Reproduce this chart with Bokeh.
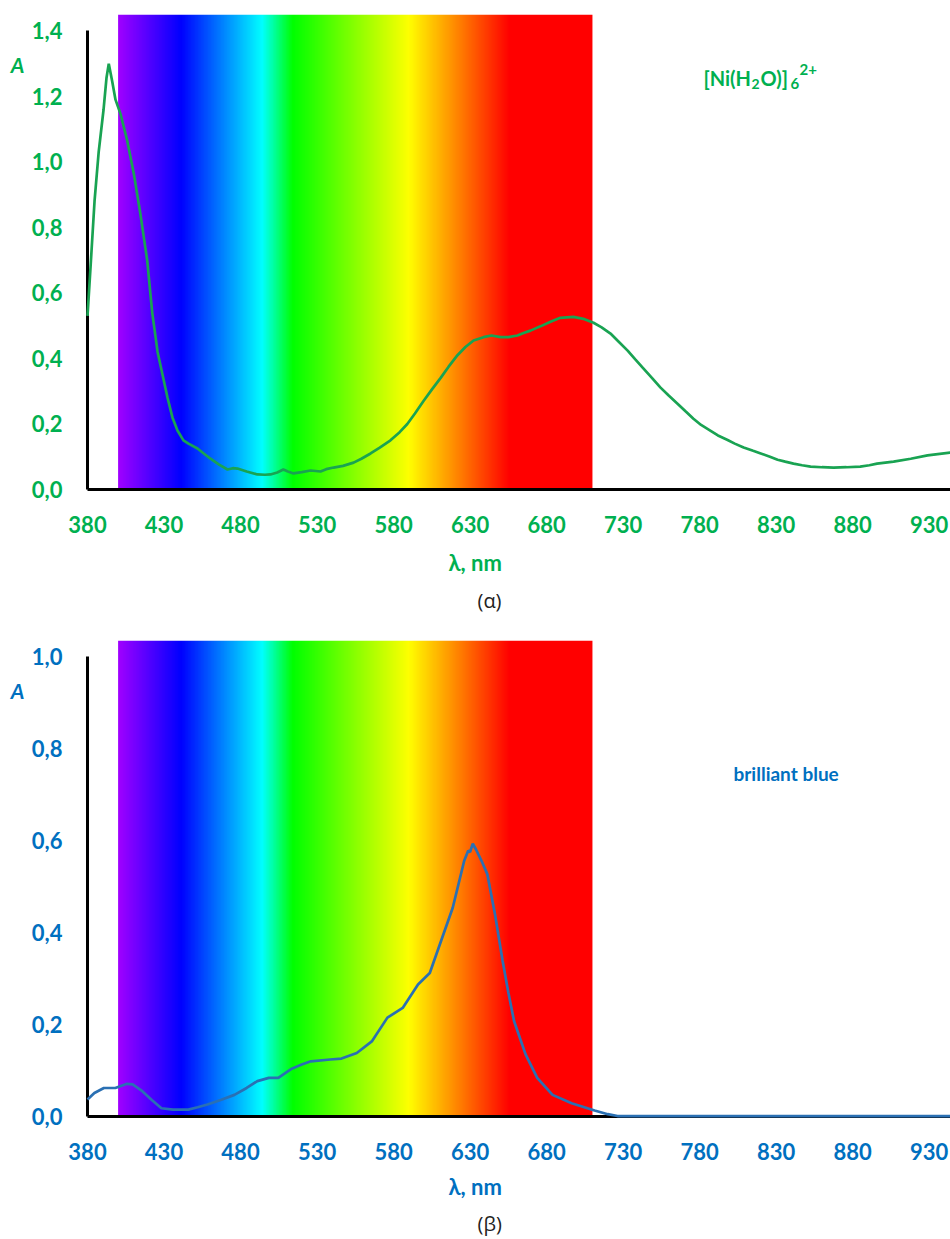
import numpy as np
from bokeh.plotting import figure
from bokeh.models import FixedTicker, CustomJSTickFormatter, Label, Range1d, LinearAxis, Title
from bokeh.layouts import column
from bokeh.embed import file_html
from bokeh.resources import INLINE

# ---------------- data ----------------
ni_wl = [380, 382, 384.6, 387.3, 390.5, 392.4, 393.9, 396.1, 398.3, 401.6, 406, 410.3,
         414.6, 419, 422.3, 425.8, 432.3, 435.5, 438.8, 442.7, 446, 451.9, 456, 460.4,
         466, 471.5, 475, 478, 484, 491, 496, 499.6, 504, 508, 511, 514.6, 520, 525.8,
         532.3, 536, 540.8, 547, 553.9, 559, 565, 571, 578, 584, 589, 594, 599.6, 605,
         610.7, 616, 621.8, 627, 632.3, 638.8, 644, 650, 655, 661, 665, 669.5, 676, 683,
         689, 697.6, 704, 710.7, 716, 721.8, 727, 733, 738, 743.4, 749, 754.5, 760,
         765.6, 771, 776, 781, 787, 792, 798, 803, 808.8, 815, 820, 826, 831, 836,
         841.4, 847, 852.6, 860, 867.6, 876, 885, 891, 896, 906.8, 918, 929, 944]
ni_abs = [0.53, 0.68, 0.88, 1.03, 1.16, 1.256, 1.30, 1.247, 1.19, 1.146, 1.064, 0.963,
          0.84, 0.70, 0.54, 0.42, 0.28, 0.22, 0.18, 0.15, 0.14, 0.125, 0.11, 0.094,
          0.076, 0.061, 0.065, 0.064, 0.055, 0.046, 0.045, 0.046, 0.052, 0.061, 0.055,
          0.049, 0.053, 0.058, 0.055, 0.062, 0.067, 0.072, 0.082, 0.094, 0.11, 0.128,
          0.15, 0.175, 0.20, 0.232, 0.27, 0.305, 0.34, 0.375, 0.41, 0.435, 0.455, 0.465,
          0.47, 0.465, 0.465, 0.47, 0.478, 0.485, 0.498, 0.513, 0.524, 0.527, 0.521,
          0.509, 0.495, 0.476, 0.452, 0.424, 0.397, 0.369, 0.34, 0.311, 0.286, 0.262,
          0.238, 0.216, 0.197, 0.18, 0.165, 0.152, 0.14, 0.128, 0.118, 0.11, 0.10,
          0.091, 0.085, 0.079, 0.074, 0.07, 0.068, 0.067, 0.068, 0.07, 0.074, 0.079,
          0.085, 0.094, 0.104, 0.113]

bb_wl = [380, 384.5, 390.7, 398.2, 405.8, 409.5, 415.8, 422, 428.3, 435.8, 445.9, 452,
         458.4, 467, 476, 484, 491, 498.5, 504.7, 513.5, 520, 526, 538.6, 546, 556, 566,
         576, 586, 596, 603.7, 611, 618.7, 626.2, 628.8, 630, 631.8, 634, 637.5, 641.3,
         646.3, 651.3, 655, 658.8, 666.3, 673.9, 683.9, 696.4, 711.4, 720, 726.4, 760,
         850, 944]
bb_abs = [0.037, 0.051, 0.062, 0.062, 0.071, 0.070, 0.055, 0.036, 0.018, 0.015, 0.015,
          0.02, 0.026, 0.036, 0.047, 0.062, 0.077, 0.084, 0.084, 0.104, 0.113, 0.12,
          0.124, 0.126, 0.138, 0.164, 0.215, 0.236, 0.287, 0.312, 0.381, 0.454, 0.556,
          0.578, 0.575, 0.593, 0.58, 0.556, 0.527, 0.44, 0.338, 0.27, 0.207, 0.135,
          0.084, 0.047, 0.029, 0.013, 0.005, 0.001, 0.001, 0.001, 0.001]

x_ticks = [380, 430, 480, 530, 580, 630, 680, 730, 780, 830, 880, 930]
y_ticks_top = [0.0, 0.2, 0.4, 0.6, 0.8, 1.0, 1.2, 1.4]
y_ticks_bottom = [0.0, 0.2, 0.4, 0.6, 0.8, 1.0]

# visible band drawn behind the curves (nm) and its colour stops
band_start, band_end = 400, 710
stop_nm = [400, 441, 494, 514, 590, 656, 710]
stop_rgb = [(160, 0, 255), (0, 0, 255), (0, 255, 255), (0, 255, 0),
            (255, 255, 0), (255, 0, 0), (255, 0, 0)]

GREEN_TXT = "#00B050"
BLUE_TXT = "#0070C0"
GREEN_LINE = "#19a352"
BLUE_LINE = "#2a70b3"
FONT = "Lato"

X_START, X_END = 380, 944
LEFT = 87
WIDTH = 950


def spectrum_image():
    wl = np.linspace(band_start, band_end, 620)
    img = np.empty((1, wl.size), dtype=np.uint32)
    view = img.view(dtype=np.uint8).reshape((1, wl.size, 4))
    for c in range(3):
        view[0, :, c] = np.interp(wl, stop_nm, [s[c] for s in stop_rgb]).astype(np.uint8)
    view[0, :, 3] = 255
    return img


def make_panel(height, top, bottom, y_end, y_max, y_ticks, wl, ab, line_col, txt_col,
               caption, a_px, lam_standoff, cap_standoff, cap_valign):
    p = figure(width=WIDTH, height=height, x_range=Range1d(X_START, X_END),
               y_range=Range1d(0, y_end), output_backend="svg", toolbar_location=None,
               min_border_left=LEFT, min_border_right=0, min_border_top=top,
               min_border_bottom=bottom)
    p.outline_line_color = None
    p.grid.visible = False
    p.background_fill_color = "white"

    p.image_rgba(image=[spectrum_image()], x=band_start, y=0,
                 dw=band_end - band_start, dh=y_end)
    r = p.line(wl, ab, line_color=line_col, line_width=2.7)
    r.level = "overlay"

    for ax in (p.xaxis[0], p.yaxis[0]):
        ax.axis_line_color = "black"
        ax.axis_line_width = 3
        ax.major_tick_line_color = None
        ax.minor_tick_line_color = None
        ax.major_tick_out = 0
        ax.major_tick_in = 0
        ax.minor_tick_out = 0
        ax.major_label_text_font = FONT
        ax.major_label_text_font_style = "bold"
        ax.major_label_text_font_size = "22px"
        ax.major_label_text_color = txt_col
    p.xaxis.ticker = FixedTicker(ticks=x_ticks, minor_ticks=[])
    p.yaxis.ticker = FixedTicker(ticks=y_ticks, minor_ticks=[])
    p.yaxis.formatter = CustomJSTickFormatter(code="return tick.toFixed(1).replace('.', ',');")
    p.yaxis.bounds = (0, y_max)
    p.xaxis.major_label_standoff = 26
    p.yaxis.major_label_standoff = 25

    frame_h = height - top - bottom
    ppu_y = frame_h / y_end

    # axis title "A" placed at the top-left, as an outer left axis with a single label
    a_axis = LinearAxis(ticker=FixedTicker(ticks=[(top + frame_h - a_px) / ppu_y], minor_ticks=[]),
                        formatter=CustomJSTickFormatter(code="return 'A';"),
                        axis_line_color=None, major_tick_line_color=None,
                        minor_tick_line_color=None, major_tick_out=0, major_tick_in=0,
                        minor_tick_out=0, major_label_standoff=4,
                        major_label_text_font=FONT, major_label_text_font_style="bold italic",
                        major_label_text_font_size="21px", major_label_text_color=txt_col)
    p.add_layout(a_axis, "left")

    # empty spacer below the tick labels
    spacer = LinearAxis(ticker=FixedTicker(ticks=[], minor_ticks=[]), axis_line_color=None,
                        major_tick_line_color=None, minor_tick_line_color=None,
                        major_tick_out=14, major_tick_in=0, minor_tick_out=0,
                        major_label_standoff=0)
    p.add_layout(spacer, "below")

    p.add_layout(Title(text="λ, nm", align="left", offset=448 - LEFT, text_font=FONT,
                       text_font_style="bold", text_font_size="22px", text_color=txt_col,
                       standoff=lam_standoff), "below")
    p.add_layout(Title(text=caption, align="left", offset=477 - LEFT, text_font="Open Sans",
                       text_font_style="normal", text_font_size="20px",
                       text_color="#222222", standoff=cap_standoff,
                       vertical_align=cap_valign), "below")
    return p, frame_h, ppu_y


top_p, top_fh, top_ppu = make_panel(620, 14, 131, 1.45, 1.4, y_ticks_top, ni_wl, ni_abs,
                                    GREEN_LINE, GREEN_TXT, "(α)", 64, 22, 0, "top")
bot_p, bot_fh, bot_ppu = make_panel(619, 20, 123, 1.035, 1.0, y_ticks_bottom, bb_wl, bb_abs,
                                    BLUE_LINE, BLUE_TXT, "(β)", 70, 16, 0, "bottom")


def tdx(px):
    return X_START + (px - LEFT) * (X_END - X_START) / (WIDTH - LEFT)


# species labels inside the plots
base_y = (14 + top_fh - 77) / top_ppu
pieces = [("[Ni(H", 703, 0, "20px"), ("2", 751, -6, "14px"), ("O)]", 760, 0, "20px"),
          ("6", 790, -6, "15px"), ("2+", 799, 8, "15px")]
for txt, px, off, size in pieces:
    top_p.add_layout(Label(x=tdx(px), y=base_y, y_offset=off, text=txt, text_font=FONT,
                           text_font_style="bold", text_font_size=size,
                           text_color=GREEN_TXT, text_align="left",
                           text_baseline="alphabetic"))

bot_p.add_layout(Label(x=tdx(733), y=(20 + bot_fh - 153) / bot_ppu, text="brilliant blue",
                       text_font=FONT, text_font_style="bold", text_font_size="19px",
                       text_color=BLUE_TXT, text_align="left", text_baseline="middle"))

layout = column(top_p, bot_p, spacing=0)
open("out.html", "w").write(file_html(layout, INLINE))
